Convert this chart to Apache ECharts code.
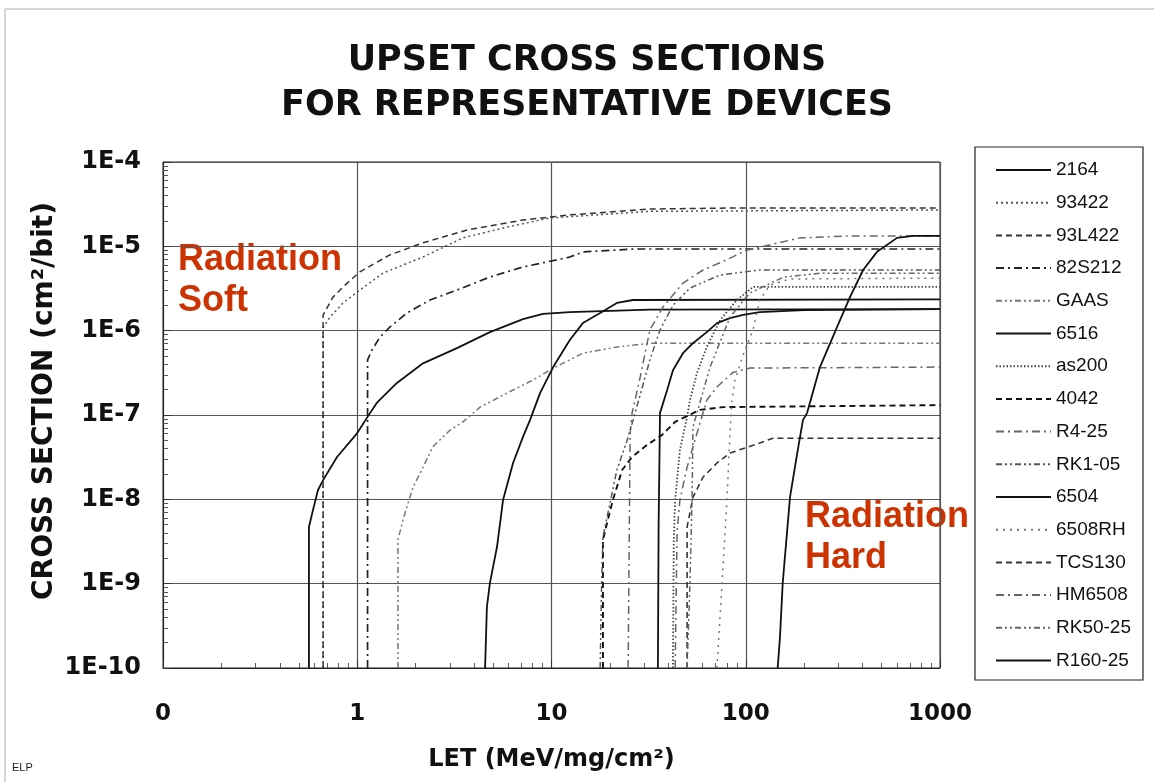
<!DOCTYPE html>
<html><head><meta charset="utf-8">
<script src="https://cdn.jsdelivr.net/npm/echarts@6/dist/echarts.min.js"></script>
<style>html,body{margin:0;padding:0;background:#fff}#c{width:1154px;height:782px}</style>
</head><body><div id="c"></div>
<script>
// Device names (legend order)
const devices = ['2164','93422','93L422','82S212','GAAS','6516','as200','4042','R4-25','RK1-05','6504','6508RH','TCS130','HM6508','RK50-25','R160-25'];
// X tick labels at 0.1, 1, 10, 100, 1000
const xTickLabels = ['0','1','10','100','1000'];
// [LET (MeV/mg/cm2), cross section (cm2/bit)]
const d2164 = [[0.564,1e-10],[0.564,4.7e-9],[0.592,7.5e-9],[0.628,1.29e-8],[0.667,1.69e-8],[0.787,3.18e-8],[1.0,6.1e-8],[1.13,9.5e-8],[1.26,1.39e-7],[1.6,2.4e-7],[2.18,4.1e-7],[3.26,6.2e-7],[4.82,9.6e-7],[7.13,1.37e-6],[9.04,1.58e-6],[12.4,1.66e-6],[32,1.78e-6],[1000,1.8e-6]];
const d93422 = [[0.667,1e-10],[0.667,1.08e-6],[0.724,1.45e-6],[0.845,2.13e-6],[1.0,2.87e-6],[1.36,4.83e-6],[2.18,7.47e-6],[3.5,1.26e-5],[5.9,1.69e-5],[9.8,2.17e-5],[32,2.6e-5],[1000,2.7e-5]];
const d93L422 = [[0.667,1e-10],[0.667,1.53e-6],[0.75,2.5e-6],[0.845,3.3e-6],[1.03,4.97e-6],[1.47,7.9e-6],[2.18,1.1e-5],[3.67,1.56e-5],[7.13,2.05e-5],[12.4,2.36e-5],[32,2.77e-5],[90,2.85e-5],[1000,2.85e-5]];
const d82S212 = [[1.13,1e-10],[1.13,4.5e-7],[1.19,5.9e-7],[1.31,8.4e-7],[1.47,1.1e-6],[1.8,1.62e-6],[2.37,2.31e-6],[3.26,3.03e-6],[4.82,4.33e-6],[7.13,5.69e-6],[12.4,7.46e-6],[14.5,8.57e-6],[26.3,9.3e-6],[1000,9.3e-6]];
const dGAAS = [[1.62,1e-10],[1.62,3.3e-9],[1.72,5.7e-9],[1.8,8.1e-9],[1.94,1.4e-8],[2.18,2.4e-8],[2.45,4.2e-8],[3.0,6.6e-8],[3.5,8.3e-8],[4.29,1.24e-7],[5.9,1.82e-7],[8.04,2.6e-7],[10.2,3.6e-7],[12.4,4.5e-7],[14.5,5.4e-7],[21.7,6.4e-7],[32,7.1e-7],[1000,7.1e-7]];
const d6516 = [[4.55,1e-10],[4.65,5.3e-10],[4.82,1.02e-9],[5.24,2.72e-9],[5.63,9.8e-9],[6.34,2.7e-8],[7.13,5.5e-8],[7.75,8.7e-8],[8.73,1.82e-7],[10.2,3.7e-7],[12.4,7.7e-7],[14.5,1.23e-6],[17.8,1.62e-6],[21.7,2.13e-6],[26.3,2.31e-6],[1000,2.35e-6]];
const das200 = [[42.2,1e-10],[42.6,3.3e-9],[43.3,9.8e-9],[45.8,3.8e-8],[49.9,9.5e-8],[51.6,1.5e-7],[56.1,3.15e-7],[63,6.4e-7],[73.8,1.34e-6],[90,2.31e-6],[109,3.3e-6],[1000,3.3e-6]];
const d4042 = [[18.4,1e-10],[18.4,3.3e-9],[19.5,5.7e-9],[20.7,9.8e-9],[23.1,2.23e-8],[26,3.18e-8],[31,4.4e-8],[37.1,5.8e-8],[43.3,8.3e-8],[58,1.15e-7],[76.4,1.24e-7],[1000,1.31e-7]];
const dR425 = [[24.8,1e-10],[25.4,6.1e-8],[26,1.06e-7],[28.6,2.8e-7],[32.1,1.02e-6],[37.5,1.91e-6],[47.5,3.67e-6],[60.3,5.24e-6],[79.4,6.9e-6],[101,9.0e-6],[190,1.26e-5],[344,1.33e-5],[1000,1.33e-5]];
const dRK105 = [[17.8,1e-10],[18.1,9.1e-10],[18.4,3.57e-9],[20,9e-9],[21.7,2.23e-8],[24.5,5.0e-8],[26.3,8.7e-8],[28.6,1.73e-7],[32.1,4.5e-7],[36.2,1.02e-6],[42.2,2.0e-6],[51.6,3.2e-6],[73.8,4.57e-6],[118,5.24e-6],[1000,5.24e-6]];
const d6504 = [[35.3,1e-10],[35.6,5e-9],[36.2,1.06e-7],[39.4,1.98e-7],[42.2,3.4e-7],[47.5,5.4e-7],[53.5,7.1e-7],[63,9.6e-7],[71.1,1.23e-6],[83,1.41e-6],[96.8,1.54e-6],[118,1.66e-6],[200,1.75e-6],[1000,1.8e-6]];
const d6508RH = [[71.1,1e-10],[75.5,1.0e-9],[80,9.8e-9],[83,6.1e-8],[84.9,1.5e-7],[88,2.6e-7],[99,5.9e-7],[109,1.02e-6],[118,2.31e-6],[133,3.47e-6],[169,4.1e-6],[1000,4.2e-6]];
const dTCS130 = [[49.9,1e-10],[49.9,4.7e-9],[53.5,1.06e-8],[60.3,1.84e-8],[71.1,2.7e-8],[83,3.54e-8],[118,4.66e-8],[138,5.3e-8],[1000,5.3e-8]];
const dHM6508 = [[43.3,1e-10],[44.3,4.0e-9],[45.8,9.8e-9],[49.9,2.4e-8],[56.1,6.1e-8],[63,1.5e-7],[71.1,2.15e-7],[85.9,3.2e-7],[105,3.6e-7],[1000,3.7e-7]];
const dRK5025 = [[49.9,1e-10],[51.6,1.0e-9],[52.9,9.8e-9],[53.5,7.2e-8],[65.5,3.7e-7],[83,1.45e-6],[105,2.8e-6],[156,4.3e-6],[241,4.8e-6],[1000,4.8e-6]];
const dR16025 = [[146,1e-10],[150,2.3e-10],[155,1.02e-9],[169,1.06e-8],[184,3.5e-8],[197,8.7e-8],[207,1.06e-7],[241,3.7e-7],[295,1.1e-6],[344,2.5e-6],[402,5.24e-6],[474,8.6e-6],[601,1.26e-5],[726,1.33e-5],[1000,1.33e-5]];

const seriesData = [d2164,d93422,d93L422,d82S212,dGAAS,d6516,das200,d4042,dR425,dRK105,d6504,d6508RH,dTCS130,dHM6508,dRK5025,dR16025];

const SOLID = 'solid', DOT = [2,3], DOTD = [1.5,2], DOTS = [2,5], DASH = [6,4], DD = [8,4,2,4], DDD = [6,3,2,3,2,3];
const styles = [
  {c:'#111', w:1.8, t:SOLID},
  {c:'#555', w:1.5, t:DOT},
  {c:'#333', w:1.5, t:DASH},
  {c:'#222', w:1.7, t:DD},
  {c:'#777', w:1.5, t:DDD},
  {c:'#111', w:1.8, t:SOLID},
  {c:'#444', w:1.8, t:DOTD},
  {c:'#111', w:1.9, t:DASH},
  {c:'#666', w:1.5, t:DD},
  {c:'#555', w:1.5, t:DDD},
  {c:'#111', w:1.8, t:SOLID},
  {c:'#777', w:1.5, t:DOTS},
  {c:'#333', w:1.6, t:DASH},
  {c:'#666', w:1.5, t:DD},
  {c:'#666', w:1.5, t:DDD},
  {c:'#111', w:1.8, t:SOLID}
];

const FONT = '"Liberation Sans", Arial, Helvetica, sans-serif';
const WIDE = '"DejaVu Sans", Verdana, sans-serif';
const chart = echarts.init(document.getElementById('c'), null, {renderer:'canvas'});
const xLabelFor = v => { const e = Math.round(Math.log10(v)); return xTickLabels[e + 1]; };

chart.setOption({
  animation:false,
  backgroundColor:'#fff',
  grid:{left:163, right:214, top:162, bottom:114, show:true, borderColor:'#222', borderWidth:1},
  legend:{
    orient:'vertical', left:975, top:147, padding:[13,10,10,20],
    itemWidth:55, itemHeight:20, itemGap:12.7,
    data:devices,
    itemStyle:{opacity:0, color:'rgba(0,0,0,0)', borderWidth:0},
    textStyle:{fontFamily:FONT, fontSize:19, color:'#111', lineHeight:20}
  },
  xAxis:{
    type:'log', logBase:10, min:0.1, max:1000, interval:1, splitNumber:4,
    name:'LET (MeV/mg/cm²)', nameLocation:'middle', nameGap:80,
    nameTextStyle:{fontFamily:WIDE, fontSize:24, fontWeight:'bold', color:'#111'},
    axisLine:{lineStyle:{color:'#222', width:1}},
    axisTick:{show:true, inside:true, length:8, lineStyle:{color:'#333'}},
    minorTick:{show:true, splitNumber:9, length:5, lineStyle:{color:'#555'}},
    splitLine:{show:true, lineStyle:{color:'#555', width:1.2}},
    axisLabel:{fontFamily:WIDE, fontSize:23, fontWeight:'bold', color:'#111', margin:35, formatter:xLabelFor}
  },
  yAxis:{
    type:'log', logBase:10, min:1e-10, max:1e-4, interval:1, splitNumber:6,
    axisLine:{show:true, lineStyle:{color:'#222', width:1}},
    axisTick:{show:true, inside:true, length:8, lineStyle:{color:'#333'}},
    minorTick:{show:true, splitNumber:9, length:5, lineStyle:{color:'#555'}},
    splitLine:{show:true, lineStyle:{color:'#555', width:1.2}},
    axisLabel:{fontFamily:WIDE, fontSize:24, fontWeight:'bold', color:'#111', margin:22,
      formatter:v => '1E' + Math.round(Math.log10(v))}
  },
  series: devices.map((n,i) => ({
    name:n, type:'line', data:seriesData[i], symbol:'none', showSymbol:false,
    smooth:false, clip:true,
    lineStyle:{color:styles[i].c, width:styles[i].w, type:styles[i].t},
    itemStyle:{color:styles[i].c}
  })),
  graphic:[
    {type:'line', shape:{x1:5,y1:9,x2:1154,y2:9}, style:{stroke:'#aaa', lineWidth:1}},
    {type:'line', shape:{x1:5,y1:9,x2:5,y2:782}, style:{stroke:'#aaa', lineWidth:1}},
    {type:'rect', shape:{x:975,y:147,width:168,height:533}, style:{fill:'none', stroke:'#222', lineWidth:1.2}},
    {type:'text', x:45, y:401, rotation:Math.PI/2, style:{text:'CROSS SECTION (cm²/bit)', fontFamily:WIDE, fontSize:28, fontWeight:'bold', fill:'#111', align:'center', verticalAlign:'middle'}},
    {type:'text', x:587, y:38, style:{text:'UPSET CROSS SECTIONS\nFOR REPRESENTATIVE DEVICES', fontFamily:WIDE, fontSize:35, fontWeight:'bold', fill:'#111', align:'center', verticalAlign:'top', lineHeight:45}},
    {type:'text', x:178, y:240, style:{text:'Radiation\nSoft', fontFamily:FONT, fontSize:36, fontWeight:'bold', fill:'#cc3300', align:'left', verticalAlign:'top', lineHeight:41}},
    {type:'text', x:805, y:497, style:{text:'Radiation\nHard', fontFamily:FONT, fontSize:36, fontWeight:'bold', fill:'#cc3300', align:'left', verticalAlign:'top', lineHeight:41}},
    {type:'text', x:12, y:762, style:{text:'ELP', fontFamily:FONT, fontSize:11, fill:'#222', align:'left', verticalAlign:'top'}}
  ]
});
</script></body></html>
